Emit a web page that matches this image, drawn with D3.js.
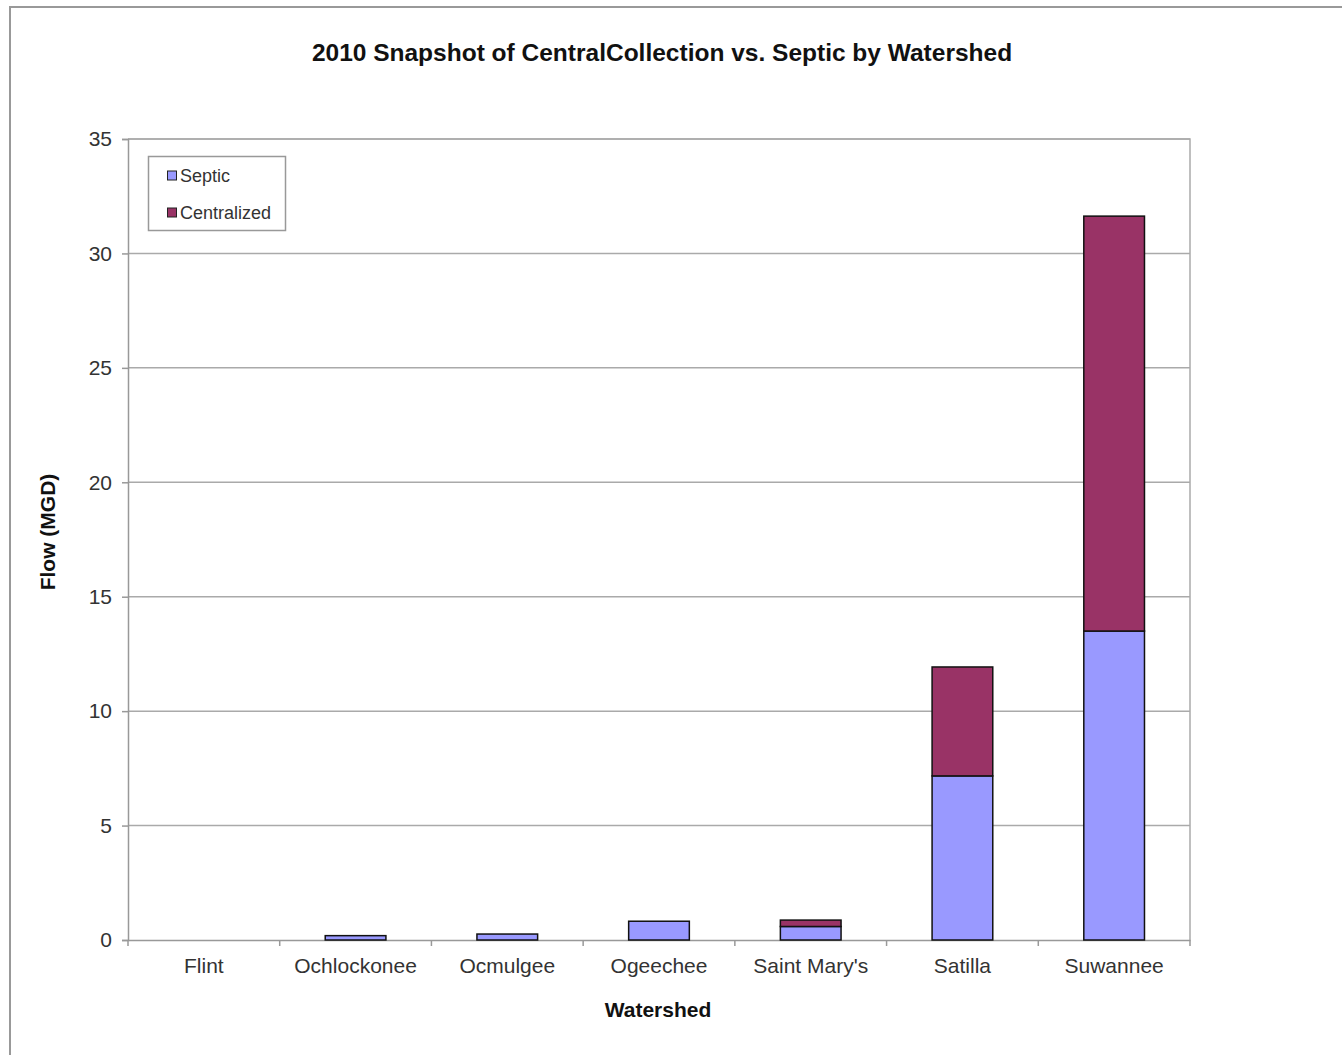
<!DOCTYPE html>
<html><head><meta charset="utf-8">
<script src="https://cdn.jsdelivr.net/npm/d3@7"></script>
<style>body{margin:0;background:#fff;}svg{display:block;font-family:"Liberation Sans",Arial,sans-serif;}</style>
</head><body>
<svg id="c" width="1342" height="1055"></svg>
<script>
const categories = ["Flint","Ochlockonee","Ocmulgee","Ogeechee","Saint Mary's","Satilla","Suwannee"];
const septic = [0, 0.19, 0.26, 0.82, 0.59, 7.17, 13.5];
const centralized = [0, 0, 0, 0, 0.28, 4.76, 18.13];
const seriesNames = ["Septic","Centralized"];
const yTicks = [0,5,10,15,20,25,30,35];
const colors = ["#9999FF","#993366"];

const svg = d3.select("#c");
svg.append("rect").attr("x",10).attr("y",7).attr("width",1400).attr("height",1100)
  .attr("fill","none").attr("stroke","#999").attr("stroke-width",2);

const m = {l:128, r:1190, t:139, b:940};
const x = d3.scaleBand().domain(categories).range([m.l,m.r]).paddingInner(0.6).paddingOuter(0.3);
const y = d3.scaleLinear().domain([0,35]).range([m.b,m.t]);

svg.append("g").selectAll("line").data(yTicks.filter(d=>d>0)).join("line")
  .attr("x1",m.l).attr("x2",m.r).attr("y1",d=>y(d)).attr("y2",d=>y(d))
  .attr("stroke","#aaa").attr("stroke-width",1.5);
svg.append("path").attr("d",`M${m.l},${m.t}H${m.r}V${m.b}`).attr("fill","none").attr("stroke","#aaa").attr("stroke-width",1.5);

const ya = svg.append("g").attr("transform",`translate(${m.l},0)`)
  .call(d3.axisLeft(y).tickValues(yTicks).tickSize(6).tickPadding(10));
ya.select(".domain").attr("stroke","#999").attr("stroke-width",1.5);
ya.selectAll(".tick line").attr("stroke","#999").attr("stroke-width",1.5);
ya.selectAll("text").attr("font-size",21).attr("fill","#333").attr("font-family","Liberation Sans, Arial");

const xa = svg.append("g").attr("transform",`translate(0,${m.b})`)
  .call(d3.axisBottom(x).tickSize(0).tickPadding(18));
xa.select(".domain").attr("stroke","#999").attr("stroke-width",1.5);
xa.selectAll("text").attr("font-size",21).attr("fill","#333").attr("font-family","Liberation Sans, Arial");
const bounds = d3.range(categories.length+1).map(i=>m.l + i*(m.r-m.l)/categories.length);
svg.append("g").selectAll("line").data(bounds).join("line")
  .attr("x1",d=>d).attr("x2",d=>d).attr("y1",m.b).attr("y2",m.b+6)
  .attr("stroke","#999").attr("stroke-width",1.5);

const data = categories.map((c,i)=>({cat:c, Septic:septic[i], Centralized:centralized[i]}));
const stack = d3.stack().keys(seriesNames)(data);
svg.append("g").selectAll("g").data(stack).join("g").attr("fill",(d,i)=>colors[i])
  .selectAll("rect").data(d=>d.filter(p=>p[1]-p[0]>0)).join("rect")
  .attr("x",d=>x(d.data.cat)).attr("width",x.bandwidth())
  .attr("y",d=>y(d[1])).attr("height",d=>y(d[0])-y(d[1]))
  .attr("stroke","#111").attr("stroke-width",1.5);

svg.append("text").attr("x",662).attr("y",61).attr("text-anchor","middle")
  .attr("font-size",24.5).attr("font-weight","bold").attr("fill","#111")
  .text("2010 Snapshot of CentralCollection vs. Septic by Watershed");
svg.append("text").attr("x",658).attr("y",1017).attr("text-anchor","middle")
  .attr("font-size",21).attr("font-weight","bold").attr("fill","#111").text("Watershed");
svg.append("text").attr("transform","translate(55,532) rotate(-90)").attr("text-anchor","middle")
  .attr("font-size",21).attr("font-weight","bold").attr("fill","#111").text("Flow (MGD)");

const lg = svg.append("g");
lg.append("rect").attr("x",148.5).attr("y",156.5).attr("width",137).attr("height",74)
  .attr("fill","#fff").attr("stroke","#999").attr("stroke-width",1.5);
seriesNames.forEach((s,i)=>{
  const yy = 175.5 + i*37;
  lg.append("rect").attr("x",167.5).attr("y",yy-4.5).attr("width",9).attr("height",9)
    .attr("fill",colors[i]).attr("stroke","#222").attr("stroke-width",1);
  lg.append("text").attr("x",180).attr("y",yy+6.5).attr("font-size",18).attr("fill","#333").text(s);
});
</script>
</body></html>
